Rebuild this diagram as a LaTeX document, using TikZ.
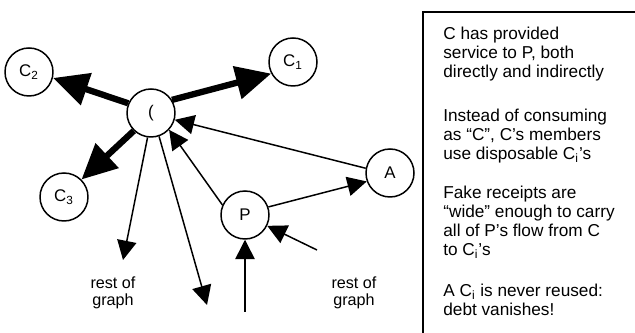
\documentclass[tikz,border=0pt]{standalone}
\usepackage{fontspec}
\setmainfont{Liberation Sans}
\usetikzlibrary{arrows.meta}
\tikzset{
  % Common styles for the graph
  vertex/.style={draw, circle, line width=0.85pt, minimum size=0.96cm, inner sep=0pt, font=\fontsize{9.6}{11}\selectfont},
  line/.style={draw, line width=0.85pt, -{Triangle[length=11pt, width=11pt]}},
  fatline/.style={draw, line width=3.6pt, -{Triangle[length=20pt, width=18.5pt]}},
  note/.style={anchor=north west, align=left, inner sep=0pt, font=\fontsize{9.8}{10.8}\selectfont},
  rest/.style={align=center, inner sep=0pt, font=\fontsize{9.2}{9.6}\selectfont}
}

\begin{document}
\begin{tikzpicture}[x=0.02cm, y=-0.02cm]
    \useasboundingbox (0,0) rectangle (635,333);

    % Place nodes
    \node [vertex] (c) at (151,113) {(};
    \node [vertex] (c1) at (293,62) {C\textsubscript{1}};
    \node [vertex] (c2) at (29,72) {C\textsubscript{2}};
    \node [vertex] (c3) at (64,197) {C\textsubscript{3}};
    \node [vertex] (p) at (245,215) {P};
    \node [vertex] (a) at (390,173) {A};
    \coordinate (g1) at (123,260);
    \coordinate (g2) at (207,305);
    \coordinate (in1) at (245,312);
    \coordinate (in2) at (317,250);
    \node [rest] (restl) at (113,293) {rest of\\graph};
    \node [rest] (restr) at (354,293) {rest of\\graph};

    % Draw edges
    \path [fatline] (c.32) -- (c1.208);
    \path [fatline] (c.157) -- (c2.346);
    \path [fatline] (c.226) -- (c3.45);
    \path [line] (c.262) -- (g1);
    \path [line] (c.289) -- (g2);
    \path [line] (p.156) -- (c.317);
    \path [line] (a.169) -- (c.344);
    \path [line] (p.19) -- (a.200);
    \path [line] (in2) -- (p.334);
    \path [line] (in1) -- (p.south);

    % Notes on the right
    \draw [line width=1.1pt] (423,12) rectangle (660,360);
    \node [note] (n1) at (443,27) {C has provided\\service to P, both\\directly and indirectly};
    \node [note] (n2) at (443,109) {Instead of consuming\\as “C”, C’s members\\use disposable C\textsubscript{i}’s};
    \node [note] (n3) at (443,186) {Fake receipts are\\“wide” enough to carry\\all of P’s flow from C\\to C\textsubscript{i}’s};
    \node [note] (n4) at (443,284) {A C\textsubscript{i} is never reused:\\debt vanishes!};
\end{tikzpicture}
\end{document}
